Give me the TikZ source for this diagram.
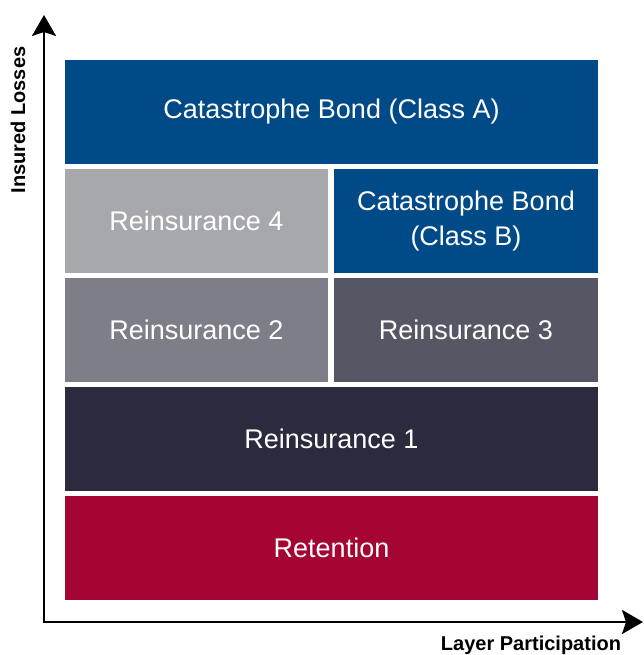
\documentclass[tikz,border=0pt]{standalone}
\usepackage{fontspec}
\setmainfont{Liberation Sans}
\usetikzlibrary{arrows.meta}

\definecolor{bondblue}{HTML}{004A87}
\definecolor{reinsfour}{HTML}{A7A8AE}
\definecolor{reinstwo}{HTML}{7E7E88}
\definecolor{reinsthree}{HTML}{575664}
\definecolor{reinsone}{HTML}{2B2A3F}
\definecolor{retention}{HTML}{A50532}

\tikzstyle{layer} = [draw=none,text=white,inner sep=0pt,align=center,font=\fontsize{27}{35}\selectfont]
\tikzstyle{axis} = [draw,line width=2.6pt,{Stealth[length=21pt,width=24pt,inset=4pt]}-{Stealth[length=21pt,width=24pt,inset=4pt]}]
\tikzstyle{axislabel} = [font=\fontsize{20}{24}\selectfont\bfseries,inner sep=0pt]

\begin{document}
\begin{tikzpicture}[x=1pt,y=1pt]
    \useasboundingbox (0,0) rectangle (643,655);

    % layers
    \foreach \nodename/\x/\y/\w/\fillcolor/\layertext in {
      classA/331.5/543/533/bondblue/{Catastrophe Bond (Class A)},
      reinsFour/196.5/434/263/reinsfour/{Reinsurance 4},
      classB/466/434/264/bondblue/{Catastrophe Bond\\(Class B)},
      reinsTwo/196.5/325/263/reinstwo/{Reinsurance 2},
      reinsThree/466/325/264/reinsthree/{Reinsurance 3},
      reinsOne/331.5/216/533/reinsone/{Reinsurance 1},
      retention/331.5/107/533/retention/{Retention}}
    {
      \node[layer, fill=\fillcolor, minimum width=\w pt, minimum height=104pt] (\nodename) at (\x,\y) {\layertext};
    }

    %axes
    \coordinate (origin) at (44,33);
    \coordinate (ytip) at (44,640);
    \coordinate (xtip) at (643,33);
    \path[axis] (ytip) -- (origin) -- (xtip);

    \node[axislabel, rotate=90] (ylabel) at (18,535) {Insured Losses};
    \node[axislabel] (xlabel) at (531,10) {Layer Participation};
\end{tikzpicture}
\end{document}
